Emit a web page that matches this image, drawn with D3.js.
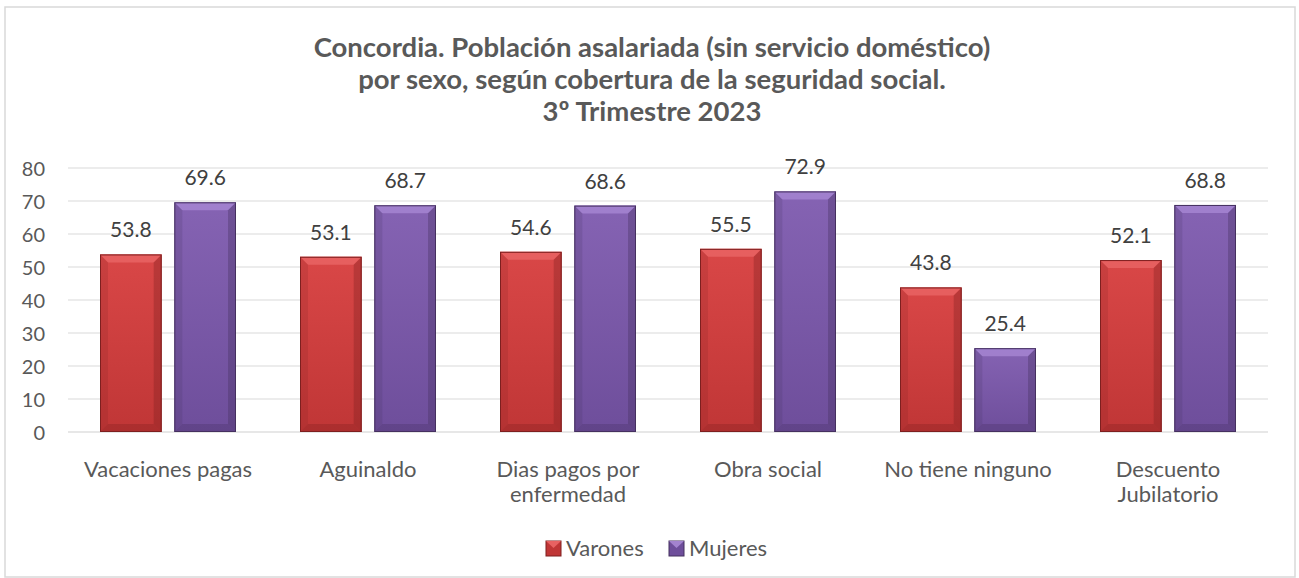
<!DOCTYPE html>
<html><head><meta charset="utf-8">
<script src="https://cdn.jsdelivr.net/npm/d3@7/dist/d3.min.js"></script>
<style>body{margin:0;background:#fff}svg{display:block}</style>
</head><body><div id="chart"></div>
<script>
const categories = [["Vacaciones pagas"],["Aguinaldo"],["Dias pagos por","enfermedad"],["Obra social"],["No tiene ninguno"],["Descuento","Jubilatorio"]];
const seriesNames = ["Varones","Mujeres"];
const varones = [53.8,53.1,54.6,55.5,43.8,52.1];
const mujeres = [69.6,68.7,68.6,72.9,25.4,68.8];
const yTicks = [0,10,20,30,40,50,60,70,80];
const titleLines = ["Concordia. Población asalariada (sin servicio doméstico)","por sexo, según cobertura de la seguridad social.","3º Trimestre 2023"];

(function(){
const W=1299,H=578, FONT="Lato, 'Open Sans', sans-serif";
const svg=d3.select("#chart").append("svg").attr("width",W).attr("height",H);
svg.append("rect").attr("x",5).attr("y",7).attr("width",1290).attr("height",570).attr("fill","#fff").attr("stroke","#d9d9d9").attr("stroke-width",1.5);

const colors=[{main:"#c03636",light:"#d94747",dark:"#7e1f1f",top:"#e86262"},{main:"#6e4e9b",light:"#8563b3",dark:"#45305f",top:"#a383cf"}];
const defs=svg.append("defs");
colors.forEach((c,i)=>{
  const g=defs.append("linearGradient").attr("id","g"+i).attr("x1",0).attr("y1",0).attr("x2",0).attr("y2",1);
  g.append("stop").attr("offset","0%").attr("stop-color",c.light);
  g.append("stop").attr("offset","100%").attr("stop-color",c.main);
});

const pl=68,pr=1268,pt=168,pb=432;
const y=d3.scaleLinear().domain([0,80]).range([pb,pt]);
const x0=d3.scaleBand().domain(d3.range(categories.length)).range([pl,pr]).paddingInner(0).paddingOuter(0);
const x1=d3.scaleBand().domain([0,1]).range([32,x0.bandwidth()-32]).paddingInner(0.17);

const t=svg.append("text").attr("text-anchor","middle").attr("font-family",FONT).attr("font-weight","bold").attr("font-size",27.5).attr("fill","#595959");
titleLines.forEach((l,i)=>t.append("tspan").attr("x",652).attr("y",57+i*32).text(l));

svg.append("g").selectAll("line").data(yTicks).join("line")
 .attr("x1",pl).attr("x2",pr).attr("y1",d=>y(d)).attr("y2",d=>y(d))
 .attr("stroke",d=>d===0?"#d0d0d0":"#d9d9d9").attr("stroke-width",1.2);
const ya=svg.append("g").attr("transform",`translate(${pl-23},0)`).call(d3.axisLeft(y).tickValues(yTicks).tickSize(0).tickPadding(0));
ya.select(".domain").remove();
ya.selectAll("text").attr("font-family",FONT).attr("font-size",20).attr("fill","#595959").attr("dy","0.36em");

const data=[varones,mujeres];
categories.forEach((cat,ci)=>{
  data.forEach((arr,si)=>{
    const v=arr[ci], bx=x0(ci)+x1(si), bw=x1.bandwidth(), by=y(v), bh=pb-by, c=colors[si], b=8;
    const g=svg.append("g");
    g.append("rect").attr("x",bx).attr("y",by).attr("width",bw).attr("height",bh).attr("fill",`url(#g${si})`);
    g.append("path").attr("d",`M${bx},${by}L${bx+bw},${by}L${bx+bw-b},${by+b}L${bx+b},${by+b}Z`).attr("fill",c.top).attr("opacity",0.9);
    g.append("path").attr("d",`M${bx},${by}L${bx+b},${by+b}L${bx+b},${pb-b}L${bx},${pb}Z`).attr("fill",c.dark).attr("opacity",0.18);
    g.append("path").attr("d",`M${bx+bw},${by}L${bx+bw-b},${by+b}L${bx+bw-b},${pb-b}L${bx+bw},${pb}Z`).attr("fill",c.dark).attr("opacity",0.35);
    g.append("path").attr("d",`M${bx},${pb}L${bx+b},${pb-b}L${bx+bw-b},${pb-b}L${bx+bw},${pb}Z`).attr("fill",c.dark).attr("opacity",0.3);
    g.append("rect").attr("x",bx+0.5).attr("y",by+0.5).attr("width",bw-1).attr("height",bh-1).attr("fill","none").attr("stroke",c.dark).attr("stroke-width",1);
    svg.append("text").attr("x",bx+bw/2).attr("y",by-17).attr("text-anchor","middle").attr("font-family",FONT).attr("font-size",21).attr("fill","#404040").text(v.toFixed(1));
  });
  const tx=svg.append("text").attr("text-anchor","middle").attr("font-family",FONT).attr("font-size",22).attr("fill","#595959");
  cat.forEach((l,li)=>tx.append("tspan").attr("x",x0(ci)+x0.bandwidth()/2).attr("y",477+li*25).text(l));
});

const lg=[{x:546,tx:566},{x:669,tx:689}];
seriesNames.forEach((n,i)=>{
  const c=colors[i];
  svg.append("rect").attr("x",lg[i].x).attr("y",541).attr("width",15).attr("height",15).attr("fill",c.main).attr("stroke",c.dark);
  svg.append("path").attr("d",`M${lg[i].x},541L${lg[i].x+15},541L${lg[i].x+7.5},548Z`).attr("fill",c.top);
  svg.append("text").attr("x",lg[i].tx).attr("y",556).attr("font-family",FONT).attr("font-size",22).attr("fill","#595959").text(n);
});
})();
</script></body></html>
